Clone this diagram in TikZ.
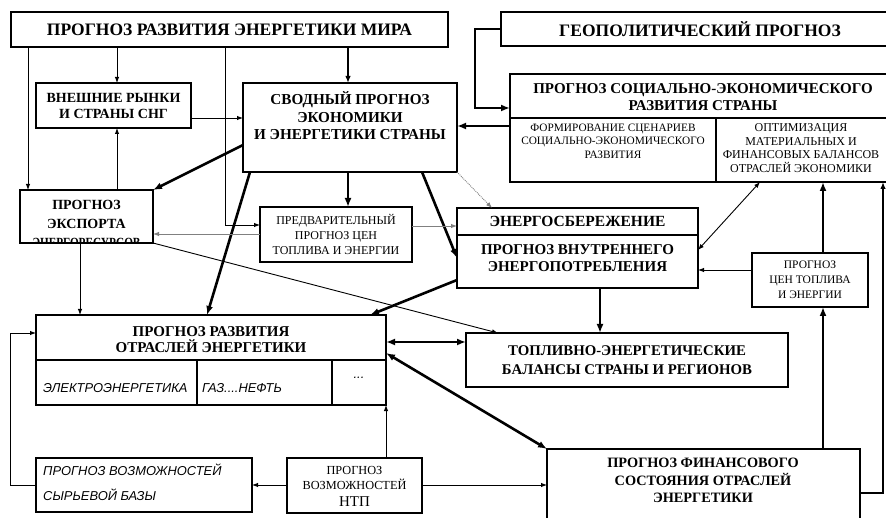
\documentclass[tikz,border=0pt]{standalone}
\usepackage{graphicx}
\usepackage{fontspec}
\setmainfont{Liberation Serif}
\setsansfont{Liberation Sans}
\usetikzlibrary{arrows.meta,calc}
\newcommand\myhb[2]{\bfseries\fontsize{#1}{#2}\selectfont}
\newcommand\myrg[2]{\fontsize{#1}{#2}\selectfont}
\tikzset{
  box/.style={draw, line width=1.3pt, inner sep=0pt, outer sep=0pt, anchor=north west, align=center},
  hdr/.style={align=center, inner sep=0pt},
  cell/.style={anchor=west, inner sep=0pt, font=\sffamily\itshape\myrg{12.9}{14}},
  conn/.style={line width=0.9pt, -{Latex[length=6pt,width=4.5pt]}},
  connd/.style={line width=0.9pt, {Latex[length=6pt,width=4.5pt]}-{Latex[length=6pt,width=4.5pt]}},
  med/.style={line width=1.8pt, -{Latex[length=7pt,width=5.5pt]}},
  thk/.style={line width=2.6pt, -{Latex[length=9pt,width=7pt]}},
  thkd/.style={line width=2.6pt, {Latex[length=9pt,width=7pt]}-{Latex[length=9pt,width=7pt]}},
}
\begin{document}
\begin{tikzpicture}[x=1pt,y=-1pt]
\useasboundingbox (0,0) rectangle (886,518);
\fill[white] (0,0) rectangle (886,518);

% boxes
\node[box, line width=1.6pt, minimum width=437pt, minimum height=35pt, font=\myhb{17.5}{20}] (world) at (11,12) {ПРОГНОЗ РАЗВИТИЯ ЭНЕРГЕТИКИ МИРА};
\node[box, line width=1.6pt, minimum width=398pt, minimum height=34pt, font=\myhb{17.5}{20}] (geo) at (501,12) {ГЕОПОЛИТИЧЕСКИЙ ПРОГНОЗ};

\node[box, minimum width=386pt, minimum height=108pt] (soc) at (510,74) {};
\draw[line width=1.3pt] (soc.west |- 0,118) -- (soc.east |- 0,118);
\draw[line width=1.3pt] (716,118) -- (soc.south -| 716,0);
\node[hdr, font=\myhb{15}{17}] (soct) at (703,97.5) {ПРОГНОЗ СОЦИАЛЬНО-ЭКОНОМИЧЕСКОГО\\РАЗВИТИЯ СТРАНЫ};
\node[hdr, font=\myrg{11.3}{13.5}] (soca) at (613,141) {ФОРМИРОВАНИЕ СЦЕНАРИЕВ\\СОЦИАЛЬНО-ЭКОНОМИЧЕСКОГО\\РАЗВИТИЯ};
\node[hdr, font=\myrg{12}{13.5}] (socb) at (801,148) {ОПТИМИЗАЦИЯ\\МАТЕРИАЛЬНЫХ И\\ФИНАНСОВЫХ БАЛАНСОВ\\ОТРАСЛЕЙ ЭКОНОМИКИ};

\node[box, minimum width=155pt, minimum height=45pt, font=\myhb{14}{16}] (ext) at (36,83) {ВНЕШНИЕ РЫНКИ\\И СТРАНЫ СНГ};

\node[box, minimum width=214pt, minimum height=89pt] (sv) at (243,83) {};
\node[hdr, font=\myhb{15.2}{17.5}] (svt) at (350,116) {СВОДНЫЙ ПРОГНОЗ\\ЭКОНОМИКИ\\И ЭНЕРГЕТИКИ СТРАНЫ};

\node[box, minimum width=133pt, minimum height=53pt] (exp) at (20,190) {};
\begin{scope}
\clip (exp.south west) rectangle (exp.north east);
\node[hdr, font=\myhb{14}{19}] (expt) at (86.5,224) {ПРОГНОЗ\\ЭКСПОРТА\\\scalebox{0.8}[1]{ЭНЕРГОРЕСУРСОВ}};
\end{scope}

\node[box, minimum width=152pt, minimum height=55pt, font=\myrg{12}{15}] (pre) at (260,207) {ПРЕДВАРИТЕЛЬНЫЙ\\ПРОГНОЗ ЦЕН\\ТОПЛИВА И ЭНЕРГИИ};

\node[box, minimum width=241pt, minimum height=80pt] (en) at (457,208) {};
\draw[line width=1.3pt] (en.west |- 0,235) -- (en.east |- 0,235);
\node[hdr, font=\myhb{15.5}{17}] (ena) at (577.5,221.5) {ЭНЕРГОСБЕРЕЖЕНИЕ};
\node[hdr, font=\myhb{15}{17}] (enb) at (577.5,258.5) {ПРОГНОЗ ВНУТРЕННЕГО\\ЭНЕРГОПОТРЕБЛЕНИЯ};

\node[box, minimum width=116pt, minimum height=54pt, font=\myrg{11.5}{15}] (cen) at (752,253) {ПРОГНОЗ\\ЦЕН ТОПЛИВА\\И ЭНЕРГИИ};

\node[box, minimum width=322pt, minimum height=54pt, font=\myhb{14.8}{19}] (teb) at (466,333) {ТОПЛИВНО-ЭНЕРГЕТИЧЕСКИЕ\\БАЛАНСЫ СТРАНЫ И РЕГИОНОВ};

\node[box, minimum width=350pt, minimum height=90pt] (otr) at (36,315) {};
\draw[line width=1.3pt] (otr.west |- 0,360) -- (otr.east |- 0,360);
\draw[line width=1.3pt] (197,360) -- (otr.south -| 197,0);
\draw[line width=1.3pt] (332,360) -- (otr.south -| 332,0);
\node[hdr, font=\myhb{15}{16}] (otrt) at (211,340) {ПРОГНОЗ РАЗВИТИЯ\\ОТРАСЛЕЙ ЭНЕРГЕТИКИ};
\node[cell] (c1) at (43,388) {ЭЛЕКТРОЭНЕРГЕТИКА};
\node[cell] (c2) at (202,388) {ГАЗ....НЕФТЬ};
\node[cell, anchor=center] (c3) at (359,378) {...};

\node[box, minimum width=216pt, minimum height=54pt] (syr) at (36,458) {};
\node[cell] (syra) at (43,470) {ПРОГНОЗ ВОЗМОЖНОСТЕЙ};
\node[cell] (syrb) at (43,495) {СЫРЬЕВОЙ БАЗЫ};

\node[box, minimum width=135pt, minimum height=55pt] (ntp) at (287,458) {};
\node[hdr, font=\myrg{12.3}{15}] (ntpa) at (354.5,477.5) {ПРОГНОЗ\\ВОЗМОЖНОСТЕЙ};
\node[hdr, font=\myrg{15}{16}] (ntpb) at (354.5,502) {НТП};

\node[box, minimum width=313pt, minimum height=80pt] (fin) at (547,449) {};
\node[hdr, font=\myhb{14.3}{17.5}] (fint) at (703,480.5) {ПРОГНОЗ ФИНАНСОВОГО\\СОСТОЯНИЯ ОТРАСЛЕЙ\\ЭНЕРГЕТИКИ};

% connectors
\draw[conn] (world.south -| 28,0) -- (exp.north -| 28,0);
\draw[conn] (world.south -| 117,0) -- (ext.north -| 117,0);
\draw[conn] (world.south -| 225,0) |- (pre.west |- 0,225);
\draw[med] (world.south -| 348,0) -- (sv.north -| 348,0);
\draw[conn] (ext.east |- 0,118) -- (sv.west |- 0,118);
\draw[conn] (exp.north -| 117,0) -- (ext.south -| 117,0);
\draw[thk] (sv.west |- 0,145) -- (exp.north east);
\draw[thk] (geo.west) -- ++(-26,0) |- (soc.west |- 0,108);
\draw[thk] (soc.west |- 0,126) -- (sv.east |- 0,126);
\draw[thk] (sv.south -| 348,0) -- (pre.north -| 348,0);
\draw[thk] (sv.south -| 250,0) -- (otr.north -| 207,0);
\draw[thk] (sv.south -| 422,0) -- (en.west |- 0,258);
\draw[conn, gray, densely dotted] (sv.south east) -- (en.north -| 492,0);
\draw[conn, gray] (pre.east |- 0,226) -- (en.west |- 0,226);
\draw[conn, gray] (pre.west |- 0,234) -- (exp.east |- 0,234);
\draw[connd] (en.east |- 0,250) -- (soc.south -| 760,0);
\draw[conn] (cen.west |- 0,270) -- (en.east |- 0,270);
\draw[thk] (cen.north -| 823,0) -- (soc.south -| 823,0);
\draw[thk] (fin.north -| 823,0) -- (cen.south -| 823,0);
\draw[med] (fin.east |- 0,493) -| (soc.south -| 883,0);
\draw[thk] (en.south -| 600,0) -- (teb.north -| 600,0);
\draw[thk] (en.west |- 0,280) -- (otr.north -| 370,0);
\draw[conn] (exp.south east) -- (teb.north -| 498,0);
\draw[conn] (exp.south -| 80,0) -- (otr.north -| 80,0);
\draw[thkd] (otr.east |- 0,342) -- (teb.west |- 0,342);
\draw[thkd] (otr.east |- 0,353) -- (fin.north west);
\draw[conn] (ntp.north -| 386,0) -- (otr.south -| 386,0);
\draw[conn] (ntp.east |- 0,485) -- (fin.west |- 0,485);
\draw[conn] (ntp.west |- 0,485) -- (syr.east |- 0,485);
\draw[conn] (syr.west |- 0,485) -- ++(-26,0) |- (otr.west |- 0,333);
\end{tikzpicture}
\end{document}
